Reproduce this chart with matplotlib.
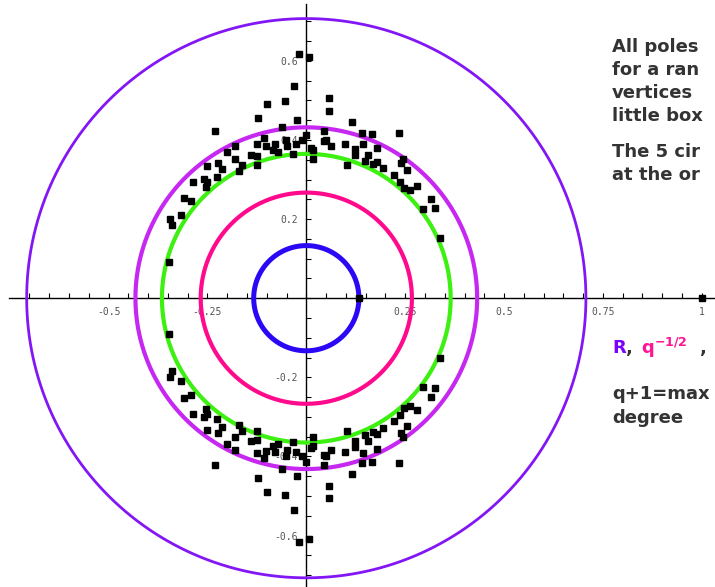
import matplotlib
matplotlib.use("Agg")
import matplotlib.pyplot as plt
from matplotlib.ticker import FixedLocator, FixedFormatter
import numpy as np

# ---- data ----
# circle radii (blue, pink, green, magenta, outer violet)
circle_radii = [0.133, 0.267, 0.365, 0.432, 0.707]
circle_colors = ["#2A08F5", "#FF0A8C", "#3CF010", "#C628F2", "#8316F5"]
circle_widths = [3.6, 3.0, 3.0, 3.0, 2.0]

# poles in the upper half plane (their complex conjugates are poles too)
upper_re = [-0.018, 0.008, -0.031, -0.099, -0.053, -0.122, -0.023, 0.058, 0.058,
            -0.230, -0.061, 0.000, 0.045, 0.116, 0.141, 0.167, 0.234,
            -0.107, -0.125, -0.101, -0.078, -0.051, -0.049, -0.026, -0.010,
            -0.083, -0.071, -0.033, 0.012, 0.018, 0.018,
            0.046, 0.050, 0.063, 0.099, 0.124, 0.144, 0.122, 0.104, 0.157,
            0.180, 0.149, 0.169, 0.180, 0.195, 0.222, 0.238, 0.240, 0.245,
            0.255, 0.248, 0.263, 0.281, 0.296, 0.316, 0.326, 0.339,
            -0.200, -0.180, -0.180, -0.139, -0.124, -0.162, -0.170, -0.124,
            -0.222, -0.250, -0.212, -0.225, -0.258, -0.250, -0.253, -0.286,
            -0.309, -0.291, -0.316, -0.344, -0.339, -0.346]
upper_im = [0.617, 0.610, 0.536, 0.490, 0.498, 0.455, 0.450, 0.506, 0.474,
            0.423, 0.432, 0.413, 0.423, 0.445, 0.417, 0.414, 0.417,
            0.404, 0.391, 0.386, 0.389, 0.399, 0.384, 0.389, 0.399,
            0.374, 0.369, 0.364, 0.379, 0.374, 0.351,
            0.397, 0.399, 0.384, 0.389, 0.376, 0.391, 0.361, 0.336, 0.361,
            0.381, 0.346, 0.339, 0.344, 0.328, 0.311, 0.295, 0.341, 0.351,
            0.323, 0.278, 0.273, 0.283, 0.225, 0.250, 0.227, 0.152,
            0.369, 0.384, 0.351, 0.361, 0.359, 0.336, 0.321, 0.336,
            0.341, 0.333, 0.326, 0.306, 0.301, 0.293, 0.281, 0.293,
            0.253, 0.245, 0.210, 0.200, 0.184, 0.091]
# poles on the real axis
real_poles = [0.133, 1.0]

x_tick_vals = [round(-0.7 + 0.05 * i, 2) for i in range(35)]
x_label_map = {-0.5: "-0.5", -0.25: "-0.25", 0.25: "0.25", 0.5: "0.5", 0.75: "0.75", 1.0: "1"}
y_tick_vals = [round(-0.7 + 0.05 * i, 2) for i in range(29)]
y_label_map = {-0.6: "-0.6", -0.4: "-0.4", -0.2: "-0.2", 0.2: "0.2", 0.4: "0.4", 0.6: "0.6"}

# ---- figure ----
W, H, DPI = 715, 587, 100
fig = plt.figure(figsize=(W / DPI, H / DPI), dpi=DPI)
ax = fig.add_axes([0, 0, 1, 1])
x0, y0, s = 306.3, 298.2, 395.5  # pixel origin and pixels per unit
ax.set_xlim(-x0 / s, (W - x0) / s)
ax.set_ylim(-(H - y0) / s, y0 / s)
ax.set_facecolor("white")

for sp in ["top", "right"]:
    ax.spines[sp].set_visible(False)
ax.spines["left"].set_position(("data", 0))
ax.spines["bottom"].set_position(("data", 0))
ax.spines["bottom"].set_bounds(-(x0 - 9) / s, (W - x0) / s)
ax.spines["left"].set_bounds(-(H - y0) / s, (y0 - 4) / s)
for sp in ["left", "bottom"]:
    ax.spines[sp].set_linewidth(1.0)
    ax.spines[sp].set_zorder(1)

ax.xaxis.set_major_locator(FixedLocator(x_tick_vals))
ax.xaxis.set_major_formatter(FixedFormatter([x_label_map.get(v, "") for v in x_tick_vals]))
ax.yaxis.set_major_locator(FixedLocator(y_tick_vals))
ax.yaxis.set_major_formatter(FixedFormatter([y_label_map.get(v, "") for v in y_tick_vals]))
ax.tick_params(axis="both", direction="in", length=3.5, width=0.8,
               labelsize=7, labelcolor="#555555", pad=6)
for lab in ax.get_xticklabels() + ax.get_yticklabels():
    lab.set_family("DejaVu Sans Mono")

th = np.linspace(0, 2 * np.pi, 720)
for r, c, lw in zip(circle_radii, circle_colors, circle_widths):
    ax.plot(r * np.cos(th), r * np.sin(th), color=c, lw=lw, zorder=3, solid_capstyle="butt")

re = np.array(upper_re)
im = np.array(upper_im)
ax.plot(np.concatenate([re, re, real_poles]),
        np.concatenate([im, -im, np.zeros(len(real_poles))]),
        ls="none", marker="s", ms=4.2, color="black", zorder=5, clip_on=False)

# ---- slide text (the visible part of a text that runs off the right edge) ----
txt_kw = dict(fontsize=13, fontweight="bold", color="#333333", family="DejaVu Sans",
              va="center", ha="left")
lines1 = [("All poles", 47), ("for a ran", 70),
          ("vertices", 93), ("little box", 116),
          ("The 5 cir", 152), ("at the or", 175),
          ("q+1=max", 394), ("degree", 418)]
for t, py in lines1:
    fig.text(612 / W, 1 - py / H, t, **txt_kw)
fig.text(612 / W, 1 - 348 / H, "R", **{**txt_kw, "color": "#7A00FF"})
fig.text(626 / W, 1 - 348 / H, ",", **txt_kw)
fig.text(641 / W, 1 - 348 / H, r"$\mathbf{q}^{\mathbf{-1/2}}$", **{**txt_kw, "color": "#FF1493"})
fig.text(700 / W, 1 - 348 / H, ",", **txt_kw)

fig.savefig("out.png", dpi=DPI)
